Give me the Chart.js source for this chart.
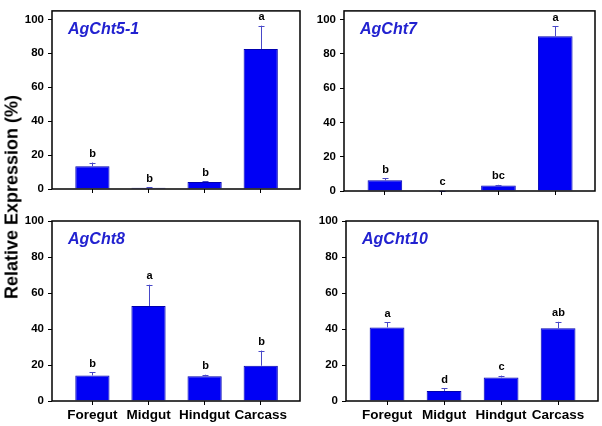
<!DOCTYPE html>
<html>
<head>
<meta charset="utf-8">
<script src="https://cdn.jsdelivr.net/npm/chart.js@4.4.1/dist/chart.umd.min.js"></script>
<style>
  html, body { margin: 0; padding: 0; background: #fff; }
  #wrap { position: relative; width: 602px; height: 426px; overflow: hidden; }
  #wrap canvas { position: absolute; left: 0; top: 0; }
  #ytitle {
    position: absolute; left: 12px; top: 197px;
    transform: translate(-50%, -50%) rotate(-90deg);
    font: bold 18px 'Liberation Sans', Arial, sans-serif;
    white-space: nowrap; color: #000;
  }
</style>
</head>
<body>
<div id="wrap">
  <canvas id="c1" width="602" height="426"></canvas>
  <canvas id="c2" width="602" height="426"></canvas>
  <canvas id="c3" width="602" height="426"></canvas>
  <canvas id="c4" width="602" height="426"></canvas>
  <div id="ytitle">Relative Expression (%)</div>
</div>
<script>
// --- DATA ---
const categories = ['Foregut', 'Midgut', 'Hindgut', 'Carcass'];
const yTicks = [0, 20, 40, 60, 80, 100];

const cht51Mean = [13.4, 0.8, 4.1, 82.5];
const cht51Se = [2.2, 0.2, 0.4, 13.8];
const cht51Letters = ['b', 'b', 'b', 'a'];

const cht7Mean = [6.2, 0.1, 3.2, 90.2];
const cht7Se = [1.1, 0.1, 0.4, 6.0];
const cht7Letters = ['b', 'c', 'bc', 'a'];

const cht8Mean = [14.2, 52.8, 13.8, 19.6];
const cht8Se = [1.8, 11.8, 0.8, 8.4];
const cht8Letters = ['b', 'a', 'b', 'b'];

const cht10Mean = [40.9, 5.6, 13.1, 40.4];
const cht10Se = [2.8, 1.4, 1.0, 3.6];
const cht10Letters = ['a', 'd', 'c', 'ab'];

// --- LOOK ---
const FONT = "'Liberation Sans', Arial, sans-serif";
const BAR_FILL = '#0000f5';
const BAR_EDGE = '#0000b0';
const ERR_COLOR = '#4848c8';
const TITLE_COLOR = '#2222d0';
const Y_AXIS_W = 45;
const X_AXIS_H = 24;

// frame, error bars, letters and gene name
const panelDeco = {
    id: 'panelDeco',
    afterDatasetsDraw(chart, args, opts) {
        const ctx = chart.ctx;
        const xs = chart.scales.x, ys = chart.scales.y;
        const meta = chart.getDatasetMeta(0);
        ctx.save();
        ctx.strokeStyle = ERR_COLOR;
        ctx.lineWidth = 1;
        meta.data.forEach((bar, i) => {
            const x = Math.round(xs.getPixelForValue(i)) + 0.5;
            const yTop = ys.getPixelForValue(opts.means[i]);
            const yErr = ys.getPixelForValue(opts.means[i] + opts.ses[i]);
            ctx.beginPath();
            ctx.moveTo(x, yTop);
            ctx.lineTo(x, yErr);
            ctx.moveTo(x - 3, Math.round(yErr) + 0.5);
            ctx.lineTo(x + 3, Math.round(yErr) + 0.5);
            ctx.stroke();
            ctx.fillStyle = '#000';
            ctx.font = 'bold 11px ' + FONT;
            ctx.textAlign = 'center';
            ctx.textBaseline = 'bottom';
            ctx.fillText(opts.letters[i], x, yErr - 3);
        });
        ctx.restore();
    },
    afterDraw(chart, args, opts) {
        const ctx = chart.ctx;
        const a = chart.chartArea;
        ctx.save();
        ctx.strokeStyle = '#000';
        ctx.lineWidth = 1.5;
        ctx.strokeRect(a.left, a.top, a.right - a.left, a.bottom - a.top);
        ctx.fillStyle = TITLE_COLOR;
        ctx.font = 'italic bold 16px ' + FONT;
        ctx.textAlign = 'left';
        ctx.textBaseline = 'middle';
        ctx.fillText(opts.gene, a.left + 16, a.top + 19);
        ctx.restore();
    }
};

const makePanel = (id, gene, means, ses, letters, box, yMax, showLabels) => {
    const tickFont = { family: FONT, weight: 'bold', size: 11.5 };
    return new Chart(document.getElementById(id), {
        type: 'bar',
        data: {
            datasets: [{
                data: means.map((v, i) => ({ x: i, y: v })),
                backgroundColor: BAR_FILL,
                borderColor: BAR_EDGE,
                borderWidth: 1,
                barPercentage: 0.61,
                categoryPercentage: 1.0
            }]
        },
        options: {
            responsive: false,
            animation: false,
            events: [],
            layout: {
                padding: {
                    left: box.l - Y_AXIS_W,
                    top: box.t,
                    right: 602 - box.r,
                    bottom: 426 - box.b - X_AXIS_H
                }
            },
            plugins: {
                legend: { display: false },
                tooltip: { enabled: false },
                panelDeco: { gene, means, ses, letters }
            },
            scales: {
                x: {
                    type: 'linear',
                    offset: false,
                    min: -0.72,
                    max: 3.7,
                    afterBuildTicks: s => { s.ticks = categories.map((c, i) => ({ value: i })); },
                    afterFit: s => { s.height = X_AXIS_H; },
                    ticks: {
                        display: showLabels,
                        autoSkip: false,
                        maxRotation: 0,
                        padding: 2,
                        color: '#000',
                        font: { family: FONT, weight: 'bold', size: 13.5 },
                        callback: v => categories[v]
                    },
                    grid: { offset: false, drawOnChartArea: false, drawTicks: true, tickLength: 4, color: '#000' },
                    border: { display: false }
                },
                y: {
                    min: 0,
                    max: yMax,
                    afterBuildTicks: s => { s.ticks = yTicks.map(v => ({ value: v })); },
                    afterFit: s => { s.width = Y_AXIS_W; },
                    ticks: { color: '#000', font: tickFont, padding: 4 },
                    grid: { drawOnChartArea: false, drawTicks: true, tickLength: 4, color: '#000' },
                    border: { display: false }
                }
            }
        },
        plugins: [panelDeco]
    });
};

document.addEventListener('DOMContentLoaded', () => {
    makePanel('c1', 'AgCht5-1', cht51Mean, cht51Se, cht51Letters, { l: 52, r: 300, t: 4, b: 189 }, 105, false);
    makePanel('c2', 'AgCht7', cht7Mean, cht7Se, cht7Letters, { l: 344, r: 595, t: 4, b: 191 }, 105, false);
    makePanel('c3', 'AgCht8', cht8Mean, cht8Se, cht8Letters, { l: 52, r: 300, t: 221, b: 401 }, 100, true);
    makePanel('c4', 'AgCht10', cht10Mean, cht10Se, cht10Letters, { l: 346, r: 598, t: 221, b: 401 }, 100, true);
});
</script>
</body>
</html>
